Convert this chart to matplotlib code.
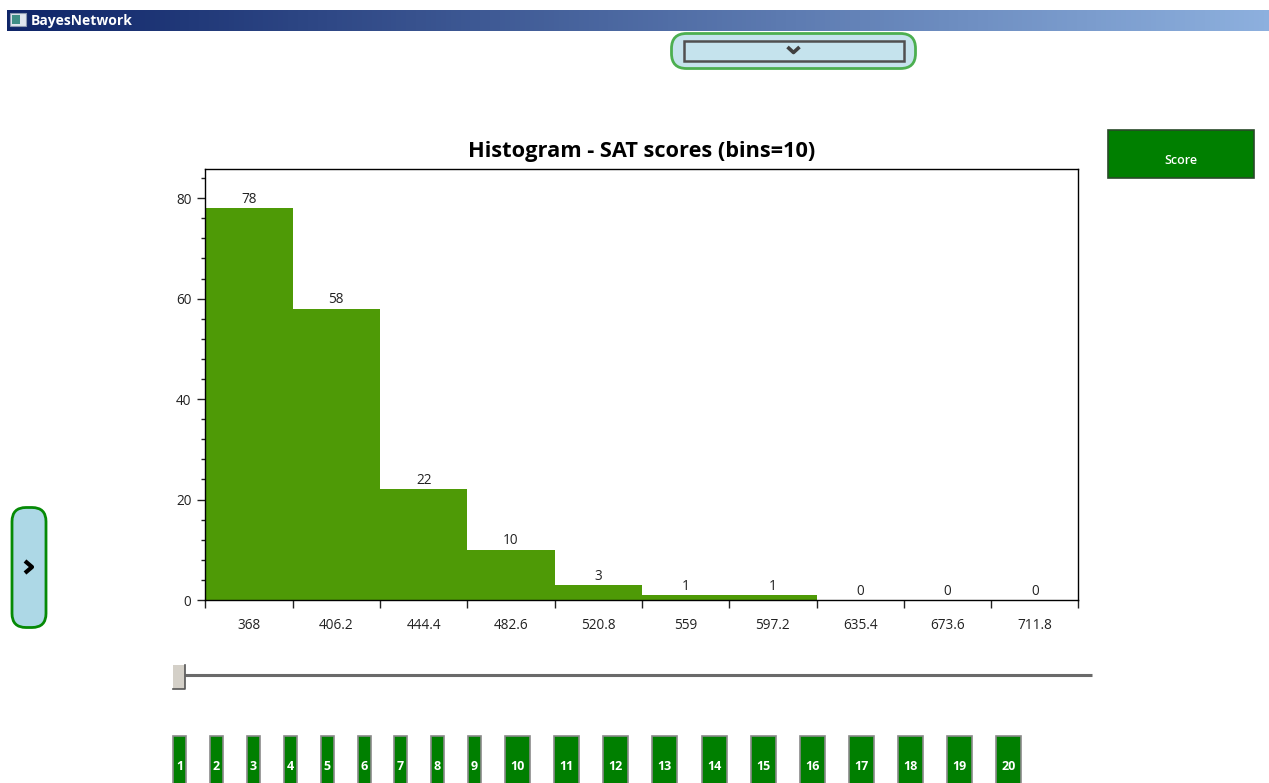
import matplotlib
matplotlib.use("Agg")
import numpy as np
import matplotlib.pyplot as plt
from matplotlib.patches import FancyBboxPatch, Rectangle
from matplotlib.ticker import MultipleLocator

plt.rcParams['font.family'] = ['Open Sans', 'DejaVu Sans']

# histogram data
bin_labels = ['368', '406.2', '444.4', '482.6', '520.8', '559', '597.2', '635.4', '673.6', '711.8']
counts = [78, 58, 22, 10, 3, 1, 1, 0, 0, 0]
page_labels = [str(i) for i in range(1, 21)]
page_left = [173, 210, 247, 284, 321, 358, 394, 431, 468, 505, 554, 603, 652, 702, 751, 800, 849, 898, 947, 996]

W, H = 1269, 783
fig = plt.figure(figsize=(W / 100, H / 100), dpi=100, facecolor='white')

# window parts, drawn in pixel coordinates
bg = fig.add_axes([0, 0, 1, 1])
bg.axis('off')

# title bar
grad = np.linspace(0, 1, 256).reshape(1, -1)
cmap = matplotlib.colors.LinearSegmentedColormap.from_list('bar', ['#0f2568', '#8db0de'])
bg.imshow(grad, extent=[7, W, 31, 10], cmap=cmap, aspect='auto', zorder=1)
bg.set_xlim(0, W)
bg.set_ylim(H, 0)
bg.add_patch(Rectangle((10, 13), 16, 13, fc='#dfe6ee', ec='#8c9ab0', lw=0.8, zorder=2))
bg.add_patch(Rectangle((12, 15), 8, 9, fc='#3f8f86', ec='none', zorder=3))
bg.text(31, 20.5, 'BayesNetwork', color='white', fontsize=10, fontweight='bold', va='center', ha='left', zorder=3)

# combo box at the top
bg.add_patch(FancyBboxPatch((671.5, 33.5), 244, 35, boxstyle='round,pad=0,rounding_size=15',
                            fc='#c5e3ed', ec='#4caf50', lw=2, zorder=2))
bg.add_patch(Rectangle((684, 41), 220, 20, fc='none', ec='#505050', lw=1.8, zorder=3))
bg.plot([787.5, 793.5, 799.5], [47, 52.5, 47], color='#404040', lw=2.6, zorder=4, solid_capstyle='butt')

# side button
bg.add_patch(FancyBboxPatch((12, 507.5), 34, 120, boxstyle='round,pad=0,rounding_size=14',
                            fc='#add8e6', ec='#068a06', lw=2, zorder=2))
bg.plot([25, 32, 25], [561, 567, 573], color='black', lw=3, zorder=4, solid_capstyle='butt')

# score button
bg.add_patch(Rectangle((1107.5, 129.5), 146, 48, fc='#007f00', ec='#2a4a2a', lw=1.2, zorder=2))
bg.text(1181, 161, 'Score', color='white', fontsize=9, fontweight='semibold', ha='center', va='center', zorder=3)

# slider
bg.plot([185, 1092], [675, 675], color='#6a6a6a', lw=2.2, zorder=2, solid_capstyle='butt')
bg.add_patch(Rectangle((173, 665), 12, 24, fc='#d4d0c8', ec='none', zorder=3))
bg.plot([173, 185, 185], [689, 689, 665], color='#555555', lw=1.2, zorder=4)

# numbered buttons
for i, (lab, left) in enumerate(zip(page_labels, page_left)):
    w = 13 if i < 9 else 25
    bg.add_patch(Rectangle((left, 735.5), w, 50, fc='#007f00', ec='#8a8a8a', lw=1.2, zorder=2))
    bg.text(left + w / 2, 767, lab, color='white', fontsize=9, fontweight='bold', ha='center', va='center', zorder=3)

# the histogram
ax = fig.add_axes([205.4 / W, 1 - 600 / H, (1078.4 - 205.4) / W, (600 - 169) / H])
ax.patch.set_alpha(0)
x = np.arange(len(counts))
ax.bar(x, counts, width=1.0, color='#4e9a06', edgecolor='none')
for xi, c in zip(x, counts):
    ax.annotate(str(c), (xi, c), xytext=(0, 1), textcoords='offset points', ha='center', va='bottom',
                fontsize=9.8, color='#222222')
ax.set_xlim(-0.5, 9.5)
ax.set_ylim(0, 85.8)
ax.set_title('Histogram - SAT scores (bins=10)', fontsize=15.7, fontweight='bold', pad=9, color='black')

ax.set_xticks(np.arange(-0.5, 10.0, 1))
ax.set_xticklabels([])
ax.set_xticks(x, minor=True)
ax.set_xticklabels(bin_labels, minor=True, fontsize=9.8, color='#222222')
ax.tick_params(axis='x', which='major', length=5.5, width=1, color='#222222')
ax.tick_params(axis='x', which='minor', length=0, pad=13)

ax.yaxis.set_major_locator(MultipleLocator(20))
ax.yaxis.set_minor_locator(MultipleLocator(4))
ax.tick_params(axis='y', which='major', length=6, width=1, labelsize=9.8, labelcolor='#222222', color='#222222', pad=4)
ax.tick_params(axis='y', which='minor', length=3, width=1, color='#222222')
for s in ax.spines.values():
    s.set_linewidth(1)
    s.set_color('black')

fig.savefig('out.png', dpi=100)
